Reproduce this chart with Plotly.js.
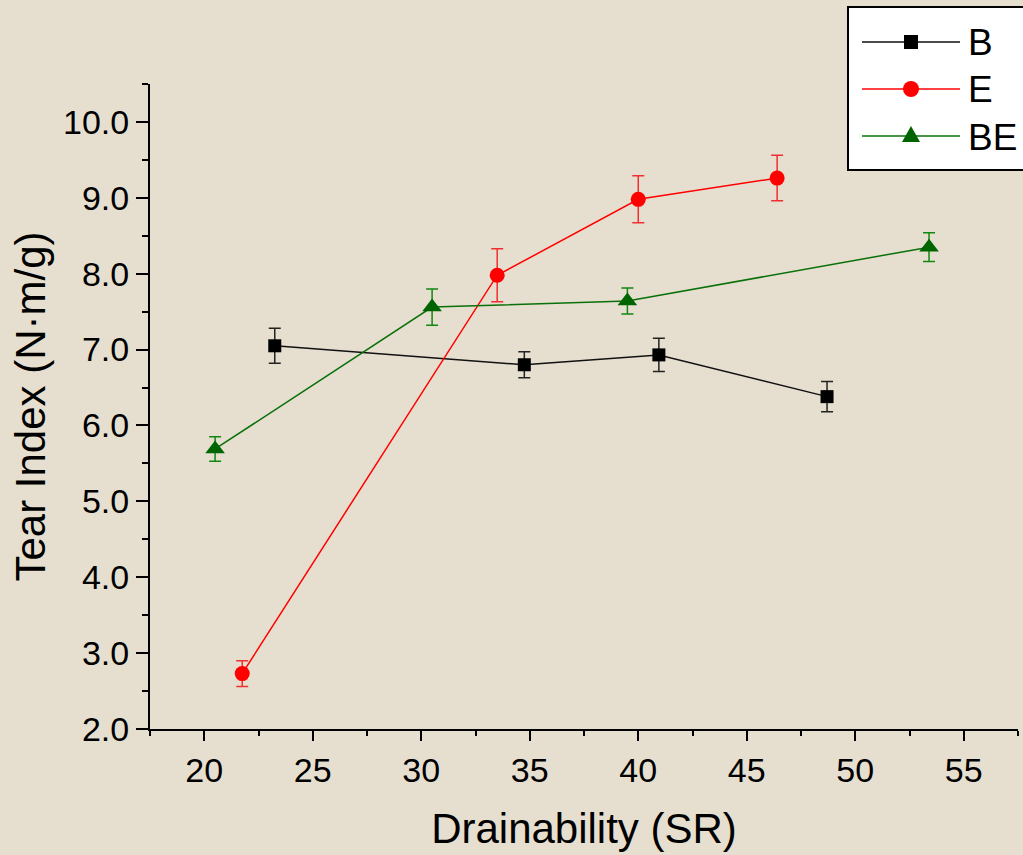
<!DOCTYPE html>
<html>
<head>
<meta charset="utf-8">
<script src="https://cdn.plot.ly/plotly-3.0.1.min.js"></script>
<style>html,body{margin:0;padding:0;background:#e6dfcf;}#chart{width:1023px;height:855px;}</style>
</head>
<body>
<div id="chart"></div>
<script>
// Series data
var seriesNames = ["B", "E", "BE"];
var xB = [23.25, 34.75, 40.95, 48.7];
var yB = [7.05, 6.80, 6.93, 6.38];
var errB = [0.23, 0.17, 0.22, 0.20];
var xE = [21.75, 33.5, 40.0, 46.4];
var yE = [2.73, 7.98, 8.98, 9.26];
var errE = [0.17, 0.35, 0.31, 0.30];
var xBE = [20.5, 30.5, 39.5, 53.4];
var yBE = [5.69, 7.56, 7.64, 8.35];
var errBE = [0.16, 0.24, 0.17, 0.19];

var FONT = "Liberation Sans, Arial, Helvetica, sans-serif";
var colB = "#000000", colE = "#ff0000", colBE = "#006400";

function mk(name, x, y, e, color, lineColor, errColor, symbol, size) {
  return {
    type: "scatter", mode: "lines+markers", name: name, x: x, y: y,
    line: {color: lineColor, width: 1.5},
    marker: {color: color, symbol: symbol, size: size, line: {width: 0}},
    error_y: {type: "data", array: e, visible: true, color: errColor, thickness: 1.5, width: 6},
    showlegend: false
  };
}

var traces = [
  mk(seriesNames[0], xB, yB, errB, colB, "#111111", "#222222", "square", 13),
  mk(seriesNames[1], xE, yE, errE, colE, colE, "#f03030", "circle", 15),
  mk(seriesNames[2], xBE, yBE, errBE, colBE, "#0a700a", "#118811", "triangle-up", 17)
];

// Custom legend (decoration) in paper coordinates
var L = 150, T = 84, W = 868, H = 645;
function px(x) { return (x - L) / W; }
function py(y) { return (T + H - y) / H; }
var shapes = [
  {type: "rect", xref: "paper", yref: "paper", x0: px(848), x1: px(1040), y0: py(170), y1: py(7),
   fillcolor: "#ffffff", line: {color: "#000000", width: 2}, layer: "above"}
];
var annotations = [];
var legendRows = [
  {name: seriesNames[0], y: 42, color: "#111111", mcolor: colB, kind: "square"},
  {name: seriesNames[1], y: 89, color: colE, mcolor: colE, kind: "circle"},
  {name: seriesNames[2], y: 136, color: "#0a700a", mcolor: colBE, kind: "triangle"}
];
legendRows.forEach(function (r) {
  shapes.push({type: "line", xref: "paper", yref: "paper", x0: px(862), x1: px(960), y0: py(r.y), y1: py(r.y),
    line: {color: r.color, width: 1.5}, layer: "above"});
  var base = {xref: "paper", yref: "paper", xsizemode: "pixel", ysizemode: "pixel",
    xanchor: px(911), yanchor: py(r.y), fillcolor: r.mcolor, line: {width: 0}, layer: "above"};
  if (r.kind === "square") {
    shapes.push(Object.assign({type: "rect", x0: -7, x1: 7, y0: -7, y1: 7}, base));
  } else if (r.kind === "circle") {
    shapes.push(Object.assign({type: "circle", x0: -8, x1: 8, y0: -8, y1: 8}, base));
  } else {
    shapes.push(Object.assign({type: "path", path: "M-9,-6 L9,-6 L0,10 Z"}, base));
  }
  annotations.push({xref: "paper", yref: "paper", x: px(966), y: py(r.y + 1), xanchor: "left", yanchor: "middle",
    text: r.name, showarrow: false, font: {family: FONT, size: 37, color: "#000000"}});
});

var layout = {
  width: 1023, height: 855,
  paper_bgcolor: "#e6dfcf", plot_bgcolor: "#e6dfcf",
  margin: {l: 150, r: 5, t: 84, b: 126},
  font: {family: FONT, color: "#000000"},
  showlegend: false,
  xaxis: {
    range: [17.5, 57.5], tick0: 0, dtick: 5, showgrid: false, zeroline: false,
    showline: true, linecolor: "#000000", linewidth: 2,
    ticks: "outside", ticklen: 10, tickwidth: 2, tickcolor: "#000000",
    minor: {dtick: 2.5, ticks: "outside", ticklen: 5, tickwidth: 2, tickcolor: "#000000", showgrid: false},
    tickfont: {family: FONT, size: 34, color: "#000000"},
    title: {text: "Drainability (SR)", font: {family: FONT, size: 42, color: "#000000"}, standoff: 26}
  },
  yaxis: {
    range: [2.0, 10.5], tick0: 0, dtick: 1, tickformat: ".1f", showgrid: false, zeroline: false,
    showline: true, linecolor: "#000000", linewidth: 2,
    ticks: "outside", ticklen: 12, tickwidth: 2, tickcolor: "#000000",
    minor: {dtick: 0.5, ticks: "outside", ticklen: 6, tickwidth: 2, tickcolor: "#000000", showgrid: false},
    tickfont: {family: FONT, size: 34, color: "#000000"},
    title: {text: "Tear Index (N·m/g)", font: {family: FONT, size: 42, color: "#000000"}, standoff: 4}
  },
  shapes: shapes,
  annotations: annotations
};

Plotly.newPlot("chart", traces, layout, {displayModeBar: false, staticPlot: true});
</script>
</body>
</html>
